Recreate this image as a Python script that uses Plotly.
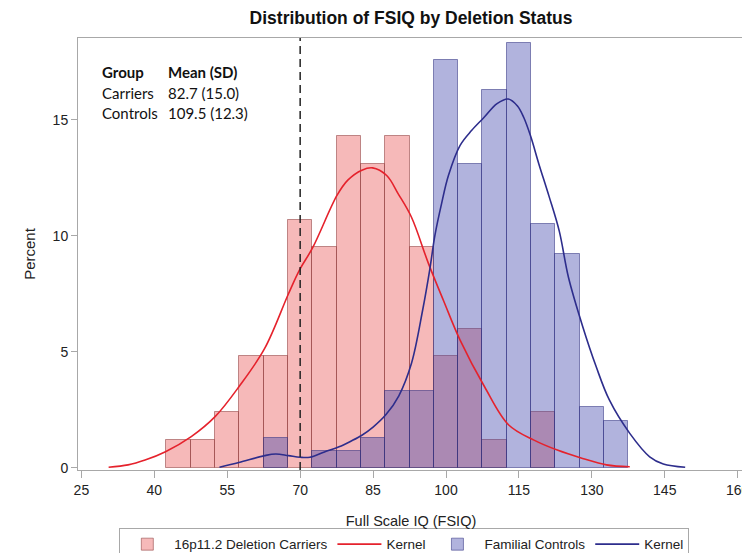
import plotly.graph_objects as go

# ---- data ----
BIN_CENTERS = [45, 50, 55, 60, 65, 70, 75, 80, 85, 90, 95, 100, 105, 110, 115, 120, 125, 130, 135]
BIN_WIDTH = 5

carriers_pct = [1.2, 1.2, 2.4, 4.8, 4.8, 10.7, 9.5, 14.3, 13.1, 14.3, 9.5, 4.8, 6.0, 1.2, None, 2.4, None, None, None]
controls_pct = [None, None, None, None, 1.3, None, 0.7, 0.7, 1.3, 3.3, 3.3, 17.6, 13.1, 16.3, 18.3, 10.5, 9.2, 2.6, 2.0]

carriers_kde_x = [30.6, 34.6, 38.1, 42.3, 47.6, 52.5, 57.5, 62.7, 67.6, 69.8, 72.6, 77.6, 79.8, 82.7, 84.9,
                  87.8, 90.2, 92.9, 96.4, 99.5, 102.9, 107.9, 112.9, 118.1, 122.9, 128.1, 133.0, 137.8]
carriers_kde_y = [0.02, 0.12, 0.33, 0.69, 1.34, 2.2, 3.52, 5.14, 7.5, 8.5, 9.5, 11.75, 12.4, 12.83, 12.93,
                  12.6, 11.8, 10.8, 8.8, 7.2, 5.5, 3.5, 1.84, 1.19, 0.76, 0.4, 0.12, 0.04]

controls_kde_x = [53.4, 57.4, 62.7, 65.0, 67.6, 70.0, 72.0, 75.0, 78.0, 80.5, 82.7, 85.0, 87.7, 90.3, 92.9,
                  95.2, 96.7, 97.7, 99.1, 100.5, 102.9, 105.3, 107.8, 110.5, 112.8, 114.7, 116.0, 117.4,
                  119.1, 121.2, 123.3, 125.2, 128.1, 130.9, 133.6, 137.8, 141.9, 144.7, 149.2]
controls_kde_y = [0.02, 0.22, 0.52, 0.59, 0.52, 0.45, 0.45, 0.68, 0.9, 1.15, 1.4, 1.75, 2.3, 3.1, 4.5,
                  6.8, 8.6, 10.0, 11.4, 12.6, 13.9, 14.55, 15.1, 15.7, 15.9, 15.6, 15.1, 14.3,
                  13.1, 11.7, 10.2, 8.2, 6.1, 4.35, 2.92, 1.48, 0.47, 0.16, 0.02]

CUTOFF = 70
X_TICKS = [25, 40, 55, 70, 85, 100, 115, 130, 145, 160]
Y_TICKS = [0, 5, 10, 15]

stats_rows = [("Group", "Mean (SD)"), ("Carriers", "82.7 (15.0)"), ("Controls", "109.5 (12.3)")]

FONT = "Liberation Sans, Arial, sans-serif"
AXIS_GREY = "#a8a8a8"

# the page body adds an 8px margin, so the figure is sized to fit inside the window
W, H = 742, 545

fig = go.Figure()

fig.add_trace(go.Bar(
    x=BIN_CENTERS, y=carriers_pct, width=BIN_WIDTH,
    name="16p11.2 Deletion Carriers",
    marker=dict(color="rgba(232,80,80,0.4)", line=dict(color="rgba(140,60,60,0.55)", width=1)),
))
fig.add_trace(go.Scatter(
    x=carriers_kde_x, y=carriers_kde_y, mode="lines", name="Kernel",
    line=dict(color="#e5222c", width=1.6, shape="spline"),
))
fig.add_trace(go.Bar(
    x=BIN_CENTERS, y=controls_pct, width=BIN_WIDTH,
    name="Familial Controls",
    marker=dict(color="rgba(60,65,170,0.4)", line=dict(color="rgba(50,50,130,0.55)", width=1)),
))
fig.add_trace(go.Scatter(
    x=controls_kde_x, y=controls_kde_y, mode="lines", name="Kernel",
    line=dict(color="#2d2d8c", width=1.6, shape="spline"),
))

# reference line at the IQ cutoff
fig.add_shape(type="line", xref="x", yref="paper", x0=CUTOFF, x1=CUTOFF, y0=0, y1=1,
              line=dict(color="#222222", width=1.5, dash="8px,5px"))

# little stats table in the upper left
row_y = [0.922, 0.873, 0.826]
for (left, right), yy in zip(stats_rows, row_y):
    bold = left == "Group"
    for txt, xx in ((left, 0.033), (right, 0.132)):
        fig.add_annotation(
            text=f"<b>{txt}</b>" if bold else txt,
            xref="paper", yref="paper", x=xx, y=yy,
            xanchor="left", yanchor="middle", showarrow=False,
            font=dict(family="Lato, Open Sans, sans-serif", size=15, color="#111111"),
        )

fig.update_layout(
    width=W, height=H,
    margin=dict(l=70, r=6, t=30, b=83, autoexpand=False),
    paper_bgcolor="white", plot_bgcolor="white",
    barmode="overlay", bargap=0,
    font=dict(family=FONT, size=14, color="#222222"),
    title=dict(text="<b>Distribution of FSIQ by Deletion Status</b>",
               x=0.5, xref="paper", xanchor="center",
               y=1 - 4 / H, yref="container", yanchor="top", pad=dict(t=0, b=0),
               font=dict(family=FONT, size=17.5, color="#111111")),
    xaxis=dict(range=[24.3, 161.3], tickvals=X_TICKS, ticks="outside", ticklen=7,
               tickcolor=AXIS_GREY, showline=True, linecolor=AXIS_GREY, mirror=True,
               showgrid=False, zeroline=False, automargin=False,
               title=dict(text="Full Scale IQ (FSIQ)", standoff=19, font=dict(size=14.5))),
    yaxis=dict(range=[-0.1, 18.53], tickvals=Y_TICKS, ticks="outside", ticklen=6,
               tickcolor=AXIS_GREY, showline=True, linecolor=AXIS_GREY, mirror=True,
               showgrid=False, zeroline=False, automargin=False,
               title=dict(text="Percent", standoff=13, font=dict(size=15))),
    legend=dict(orientation="h", x=0.49, xanchor="center", y=-0.134, yanchor="top",
                bordercolor=AXIS_GREY, borderwidth=1, font=dict(size=13.5),
                itemwidth=44, tracegroupgap=0),
    showlegend=True,
)

fig.write_html("out.html")
